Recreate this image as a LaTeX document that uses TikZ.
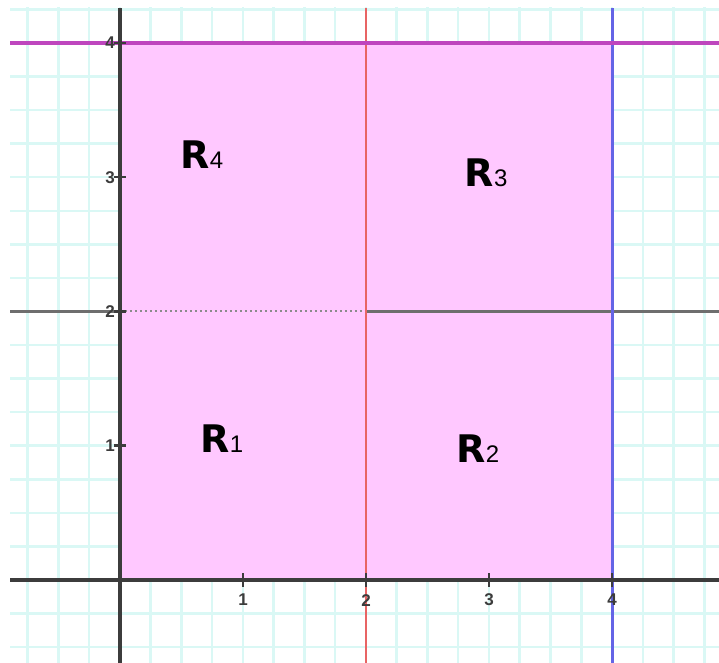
\documentclass[tikz,border=0pt]{standalone}
\usepackage{fontspec}
\setmainfont{Liberation Sans}
\newfontfamily\heavyfont{DejaVu Sans}
\definecolor{gridc}{RGB}{218,248,245}
\definecolor{pinkfill}{RGB}{255,200,255}
\definecolor{axisc}{RGB}{60,60,60}
\definecolor{redl}{RGB}{232,100,100}
\definecolor{bluel}{RGB}{100,100,230}
\definecolor{magl}{RGB}{190,70,190}
\definecolor{midl}{RGB}{110,110,110}
\tikzset{
  regionlabel/.style={inner sep=0pt, text=black},
  ticklabel/.style={inner sep=0pt, font=\fontsize{17}{17}\selectfont\bfseries, text=axisc},
  axisline/.style={draw=axisc, line width=3.5pt},
}
\newcommand{\reglab}[1]{{\heavyfont\fontsize{38}{38}\selectfont\bfseries R}{\fontsize{24}{24}\selectfont #1}}
\begin{document}
\begin{tikzpicture}[x={(123pt,0)}, y={(0,134.25pt)}]
\useasboundingbox (-0.9756,-0.6182) rectangle (4.8700,4.3203);
\fill[white] (-0.9756,-0.6182) rectangle (4.8700,4.3203);
% grid
\begin{scope}
\clip (-0.894,-0.6182) rectangle (4.8700,4.261);
\foreach \i in {-4,...,20} \draw[gridc, line width=2.5pt] (\i/4,-0.7) -- (\i/4,4.4);
\foreach \j in {-3,...,17} \draw[gridc, line width=2.5pt] (-1,\j/4) -- (5,\j/4);
\end{scope}
% region
\fill[pinkfill] (0,0) rectangle (4,4);
% horizontal line y=2
\draw[midl, line width=2.5pt] (-0.894,2) -- (0,2);
\draw[midl!80, line width=2pt, dash pattern=on 2pt off 3pt] (0,2) -- (2,2);
\draw[midl, line width=2.5pt] (2,2) -- (4.87,2);
% vertical lines
\draw[redl, line width=2.5pt] (2,-0.6182) -- (2,4.261);
\draw[bluel, line width=3pt] (4,-0.6182) -- (4,4.261);
% magenta line y=4
\draw[magl, line width=3.5pt] (-0.894,4) -- (4.87,4);
% axes
\draw[axisline] (-0.894,0) -- (4.87,0);
\draw[axisline] (0,-0.6182) -- (0,4.261);
% ticks
\foreach \i in {1,...,19} \draw[axisc, line width=1.5pt] (\i/4,-0.015) -- (\i/4,0.015);
\foreach \i in {1,2,3,4} \draw[axisc, line width=2.5pt] (\i,-0.05) -- (\i,0.05);
\foreach \j in {1,2,3,4} \draw[axisc, line width=2.5pt] (-0.05,\j) -- (0.05,\j);
\foreach \i/\n in {1/a,2/b,3/c,4/d} \node[ticklabel] (xt\n) at (\i,-0.15) {\i};
\foreach \j/\n in {1/a,2/b,3/c,4/d} \node[ticklabel, anchor=east] (yt\n) at (-0.04,\j) {\j};
% region labels
\node[regionlabel] (r4) at (0.667,3.17) {\reglab{4}};
\node[regionlabel] (r3) at (2.976,3.03) {\reglab{3}};
\node[regionlabel] (r1) at (0.829,1.05) {\reglab{1}};
\node[regionlabel] (r2) at (2.91,0.98) {\reglab{2}};
\end{tikzpicture}
\end{document}
